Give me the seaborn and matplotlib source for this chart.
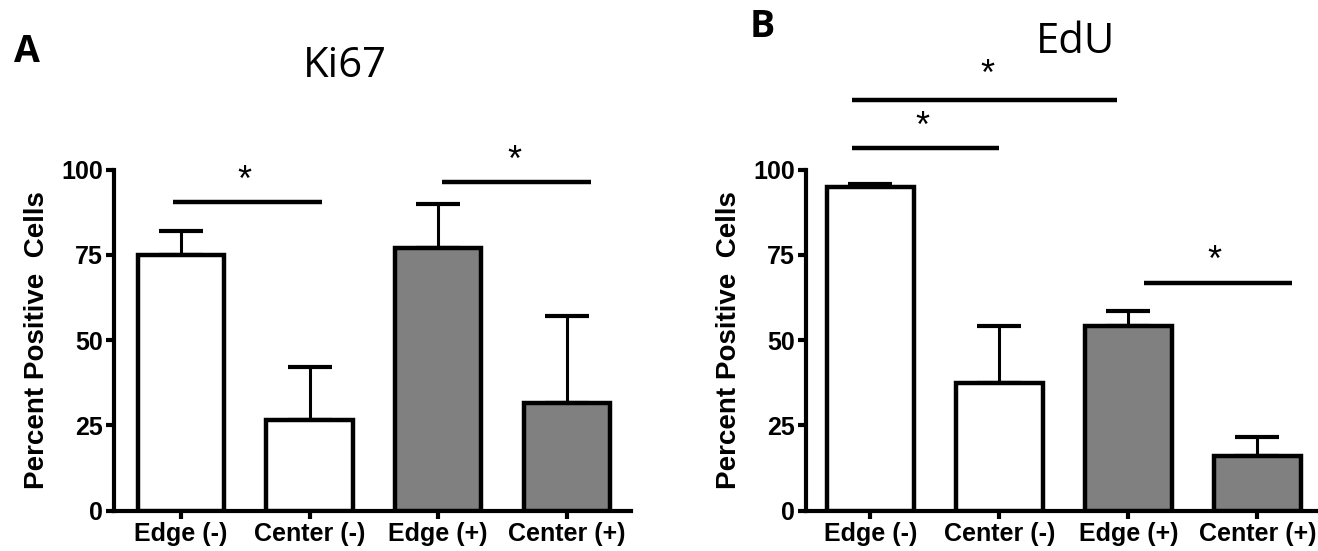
import matplotlib
matplotlib.use("Agg")
import matplotlib.pyplot as plt
import seaborn as sns
import pandas as pd
import numpy as np

# ---- data ----
categories = ["Edge (-)", "Center (-)", "Edge (+)", "Center (+)"]
bar_colors = ["#ffffff", "#ffffff", "#808080", "#808080"]

ki67_mean = [75.0, 26.5, 77.0, 31.5]
ki67_upper = [82.0, 42.0, 90.0, 57.0]

edu_mean = [95.0, 37.5, 54.0, 16.0]
edu_upper = [95.8, 54.0, 58.5, 21.5]

# significance bars: (x_start, x_end, height, star_x, star_y)
ki67_sig = [(-0.06, 1.10, 90.5, 0.49, 96.5), (2.03, 3.19, 96.3, 2.59, 102.5)]
edu_sig = [(-0.14, 1.00, 106.2, 0.40, 112.5), (-0.14, 1.91, 120.5, 0.91, 127.5),
           (2.12, 3.27, 66.6, 2.67, 73.0)]

yticks = [0, 25, 50, 75, 100]
ylabel = "Percent Positive  Cells"

sns.set_theme(style="white")
plt.rcParams['font.family'] = ['Liberation Sans', 'DejaVu Sans']
plt.rcParams['text.color'] = 'black'
plt.rcParams['axes.labelcolor'] = 'black'
plt.rcParams['xtick.color'] = 'black'
plt.rcParams['ytick.color'] = 'black'

fig = plt.figure(figsize=(13.18, 5.51), dpi=100)
axA = fig.add_axes([0.0865, 0.0733, 0.3923, 0.6189])
axB = fig.add_axes([0.6115, 0.0733, 0.3885, 0.6189])


def draw(ax, means, upper, sig, xlim):
    df = pd.DataFrame({"cat": categories, "val": means})
    sns.barplot(data=df, x="cat", y="val", hue="cat", palette=bar_colors,
                width=0.67, edgecolor="black", linewidth=3.2, legend=False,
                errorbar=None, ax=ax, zorder=3)
    xs = np.arange(len(categories))
    err = np.array(upper) - np.array(means)
    ax.errorbar(xs, means, yerr=[np.zeros_like(err), err], fmt="none",
                ecolor="black", elinewidth=2.2, capsize=16, capthick=3.0,
                zorder=2)
    for x0, x1, h, sx, sy in sig:
        ax.plot([x0, x1], [h, h], color="black", lw=3.2, clip_on=False,
                solid_capstyle="butt")
        ax.text(sx, sy, "*", ha="center", va="center", fontsize=26,
                family=["Liberation Sans"], color="black", clip_on=False)
    ax.set_xlim(*xlim)
    ax.set_ylim(0, 100)
    ax.set_yticks(yticks)
    ax.set_yticklabels([str(t) for t in yticks], fontsize=18, fontweight="bold",
                       color="black")
    ax.set_xticks(xs)
    ax.set_xticklabels(categories, fontsize=18, fontweight="bold", color="black")
    ax.set_xlabel("")
    ax.set_ylabel(ylabel, fontsize=20, fontweight="bold", labelpad=8,
                  color="black")
    for s in ["top", "right"]:
        ax.spines[s].set_visible(False)
    for s in ["left", "bottom"]:
        ax.spines[s].set_color("black")
        ax.spines[s].set_linewidth(3.0)
    ax.tick_params(axis="both", which="major", direction="out", length=6,
                   width=3.0, color="black", pad=2, bottom=True, left=True)
    ax.grid(False)


draw(axA, ki67_mean, ki67_upper, ki67_sig, (-0.52, 3.5))
draw(axB, edu_mean, edu_upper, edu_sig, (-0.50, 3.47))

fig.text(345 / 1318, 1 - 66 / 551, "Ki67", fontsize=30, family=["Open Sans"],
         ha="center", va="center", color="black")
fig.text(27 / 1318, 1 - 52 / 551, "A", fontsize=27, fontweight="bold",
         family=["Open Sans"], ha="center", va="center", color="black")
fig.text(1076 / 1318, 1 - 42 / 551, "EdU", fontsize=30, family=["Open Sans"],
         ha="center", va="center", color="black")
fig.text(762 / 1318, 1 - 27 / 551, "B", fontsize=27, fontweight="bold",
         family=["Open Sans"], ha="center", va="center", color="black")

fig.savefig("out.png", dpi=100)
